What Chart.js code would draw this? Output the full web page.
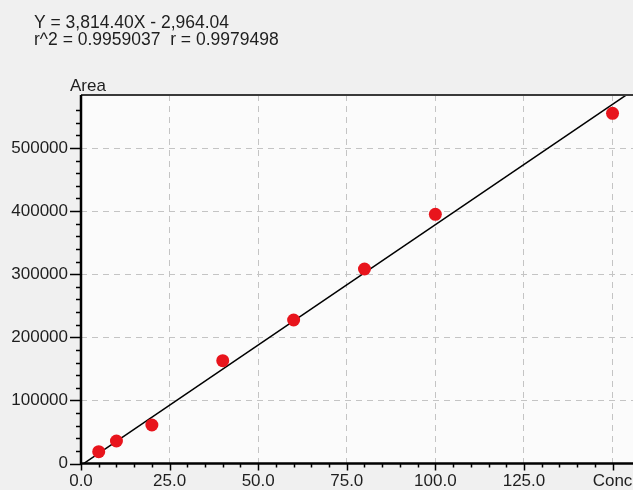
<!DOCTYPE html>
<html>
<head>
<meta charset="utf-8">
<script src="https://cdn.jsdelivr.net/npm/chart.js@4.4.0/dist/chart.umd.min.js"></script>
<style>
html,body{margin:0;padding:0;background:#f0f0f0;overflow:hidden;}
#wrap{position:relative;width:633px;height:490px;overflow:hidden;}
</style>
</head>
<body>
<div id="wrap"><canvas id="c" width="641" height="490"></canvas></div>
<script>
// ---- data ----
const conc = [5, 10, 20, 40, 60, 80, 100, 150];
const area = [18700, 35700, 61000, 162900, 227400, 308200, 394900, 555000];
const slope = 3814.40;
const intercept = -2964.04;
const fitX = [0, 160];
const headerLines = ["Y = 3,814.40X - 2,964.04", "r^2 = 0.9959037  r = 0.9979498"];
const xAxisLabel = "Conc";
const yAxisLabel = "Area";
const xMajorTicks = [0, 25, 50, 75, 100, 125, 150];
const yMajorTicks = [0, 100000, 200000, 300000, 400000, 500000];
const xMinorStep = 5;
const yMinorStep = 20000;
const xMax = 156.2;
const yMax = 584000;

const FONT = "'Liberation Sans', Arial, sans-serif";
const TXT = '#1e1e1e';

function buildTicks(max, step) {
  const t = [];
  for (let v = 0; v <= max + 1e-9; v += step) t.push({value: v});
  return t;
}

const decor = {
  id: 'decor',
  beforeDraw(chart) {
    const {ctx, chartArea: a} = chart;
    ctx.save();
    ctx.fillStyle = '#fbfbfb';
    ctx.fillRect(a.left, a.top, a.right - a.left, a.bottom - a.top);
    ctx.restore();
  },
  afterDraw(chart) {
    const {ctx, chartArea: a} = chart;
    const xs = chart.scales.x, ys = chart.scales.y;
    ctx.save();
    // top border
    ctx.strokeStyle = '#3a3a3a';
    ctx.lineWidth = 2;
    ctx.beginPath(); ctx.moveTo(a.left, a.top); ctx.lineTo(a.right, a.top); ctx.stroke();
    // axes
    ctx.strokeStyle = '#000';
    ctx.lineWidth = 2.5;
    ctx.beginPath(); ctx.moveTo(a.left, a.top); ctx.lineTo(a.left, a.bottom); ctx.lineTo(a.right, a.bottom); ctx.stroke();
    // ticks
    ctx.lineWidth = 1.5;
    xs.ticks.forEach(t => {
      const px = Math.round(xs.getPixelForValue(t.value)) + 0.5;
      const major = xMajorTicks.includes(t.value);
      ctx.beginPath(); ctx.moveTo(px, a.bottom); ctx.lineTo(px, a.bottom + (major ? 7 : 4)); ctx.stroke();
    });
    ys.ticks.forEach(t => {
      const py = Math.round(ys.getPixelForValue(t.value)) + 0.5;
      const major = yMajorTicks.includes(t.value);
      ctx.beginPath(); ctx.moveTo(a.left, py); ctx.lineTo(a.left - (major ? 11 : 5), py); ctx.stroke();
    });
    // header text
    ctx.fillStyle = TXT;
    ctx.font = "17.5px " + FONT;
    ctx.textBaseline = 'alphabetic';
    ctx.textAlign = 'left';
    ctx.fillText(headerLines[0], 34, 28);
    ctx.fillText(headerLines[1], 34, 45);
    // y axis label
    ctx.font = "17px " + FONT;
    ctx.fillText(yAxisLabel, 70, 91);
    ctx.restore();
  }
};

new Chart(document.getElementById('c'), {
  type: 'scatter',
  data: {
    datasets: [
      {
        type: 'line',
        data: fitX.map(x => ({x: x, y: slope * x + intercept})),
        borderColor: '#000',
        borderWidth: 1.5,
        pointRadius: 0,
        fill: false,
        order: 2
      },
      {
        data: conc.map((c, i) => ({x: c, y: area[i]})),
        backgroundColor: '#e8141c',
        borderColor: '#e8141c',
        pointRadius: 6.5,
        pointHoverRadius: 6.5,
        borderWidth: 0,
        order: 1
      }
    ]
  },
  options: {
    responsive: false,
    animation: false,
    events: [],
    layout: {padding: {top: 95, right: 0, left: 0, bottom: 0}},
    plugins: {legend: {display: false}, tooltip: {enabled: false}, title: {display: false}},
    scales: {
      x: {
        type: 'linear',
        min: 0,
        max: xMax,
        afterBuildTicks: s => { s.ticks = buildTicks(150, xMinorStep); },
        afterFit: s => { s.height = 26.5; s.paddingLeft = 0; s.paddingRight = 0; },
        border: {display: false, dash: [6, 5]},
        grid: {
          drawTicks: false,
          lineWidth: 1,
          color: ctx => (ctx.tick && ctx.tick.value !== 0 && xMajorTicks.includes(ctx.tick.value)) ? '#c4c4c4' : 'rgba(0,0,0,0)'
        },
        ticks: {
          autoSkip: false,
          maxRotation: 0,
          padding: 8,
          color: TXT,
          font: {family: FONT, size: 17},
          callback: v => v === 150 ? xAxisLabel : (xMajorTicks.includes(v) ? v.toFixed(1) : '')
        }
      },
      y: {
        type: 'linear',
        min: 0,
        max: yMax,
        afterBuildTicks: s => { s.ticks = buildTicks(560000, yMinorStep); },
        afterFit: s => { s.width = 81; },
        border: {display: false, dash: [6, 5]},
        grid: {
          drawTicks: false,
          lineWidth: 1,
          color: ctx => (ctx.tick && ctx.tick.value !== 0 && yMajorTicks.includes(ctx.tick.value)) ? '#c4c4c4' : 'rgba(0,0,0,0)'
        },
        ticks: {
          autoSkip: false,
          padding: 13,
          color: TXT,
          font: {family: FONT, size: 17},
          callback: v => yMajorTicks.includes(v) ? String(v) : ''
        }
      }
    }
  },
  plugins: [decor]
});
</script>
</body>
</html>
